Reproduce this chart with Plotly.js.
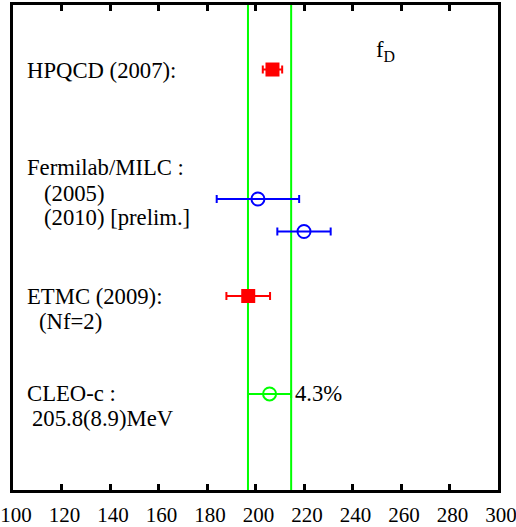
<!DOCTYPE html>
<html>
<head>
<meta charset="utf-8">
<script src="https://cdn.plot.ly/plotly-3.0.1.min.js"></script>
<style>html,body{margin:0;padding:0;background:#fff;}#chart{width:516px;height:527px;}</style>
</head>
<body>
<div id="chart"></div>
<script>
// Data
const seriesNames = ['HPQCD (2007)', 'Fermilab/MILC (2005)', 'Fermilab/MILC (2010)', 'ETMC (2009)', 'CLEO-c'];
const fdValues = [207, 201, 220, 197, 205.8];
const fdErrors = [4, 17, 11, 9, 8.9];
const rowPos = [8.67, 6.0, 5.33, 4.0, 1.98];
const seriesColors = ['#ff0000', '#0000ff', '#0000ff', '#ff0000', '#00ff00'];
const seriesSymbols = ['square', 'circle-open', 'circle-open', 'square', 'circle-open'];
const xTicks = [100, 120, 140, 160, 180, 200, 220, 240, 260, 280, 300];
const labelTexts = ['HPQCD (2007):', 'Fermilab/MILC :', '(2005)', '(2010) [prelim.]', 'ETMC (2009):', '(Nf=2)', 'CLEO-c :', '205.8(8.9)MeV', '4.3%', 'f<sub>D</sub>'];
const expValue = 205.8;
const expError = 8.9;

const FONT = 'Liberation Serif';

const traces = seriesNames.map((name, i) => ({
  type: 'scatter',
  mode: 'markers',
  name: name,
  x: [fdValues[i]],
  y: [rowPos[i]],
  error_x: {type: 'data', array: [fdErrors[i]], visible: true, color: seriesColors[i], thickness: 2, width: 4},
  marker: {
    symbol: seriesSymbols[i],
    size: seriesSymbols[i] === 'square' ? 14 : 13,
    color: seriesColors[i],
    line: {color: seriesColors[i], width: seriesSymbols[i] === 'square' ? 0 : 2}
  },
  showlegend: false,
  hoverinfo: 'x'
}));

// label placement (layout only)
const labelPos = [
  [104.8, 8.64], [104.8, 6.64], [112, 6.12], [112, 5.61],
  [104.8, 3.99], [109.8, 3.47], [104.8, 1.98], [107, 1.48],
  [215.3, 1.98], [248.8, 9.05]
];

const annotations = labelTexts.map((t, i) => ({
  text: t,
  x: labelPos[i][0],
  y: labelPos[i][1],
  xref: 'x', yref: 'y',
  xanchor: 'left', yanchor: 'middle',
  showarrow: false,
  font: {family: FONT, size: 22.7, color: '#000'}
}));

const shapes = [expValue - expError, expValue + expError].map(v => ({
  type: 'line', xref: 'x', yref: 'paper', layer: 'below',
  x0: v, x1: v, y0: 0, y1: 1,
  line: {color: '#00ff00', width: 2}
}));

const layout = {
  width: 516, height: 527,
  margin: {l: 13, r: 18, t: 5, b: 37},
  paper_bgcolor: '#fff', plot_bgcolor: '#fff',
  font: {family: FONT},
  xaxis: {
    range: [100, 300],
    tickvals: xTicks,
    ticktext: xTicks.map(String),
    ticks: 'inside', ticklen: 6, tickwidth: 3, tickcolor: '#000',
    showline: true, linewidth: 3, linecolor: '#000', mirror: 'ticks',
    showgrid: false, zeroline: false,
    ticklabeloverflow: 'allow',
    ticklabelshift: 3,
    ticklabelstandoff: 4,
    tickfont: {family: FONT, size: 21, color: '#000'}
  },
  yaxis: {
    range: [0, 10],
    showticklabels: false, ticks: '',
    showline: true, linewidth: 3, linecolor: '#000', mirror: true,
    showgrid: false, zeroline: false
  },
  shapes: shapes,
  annotations: annotations,
  showlegend: false
};

Plotly.newPlot('chart', traces, layout, {displayModeBar: false, staticPlot: true});
</script>
</body>
</html>
